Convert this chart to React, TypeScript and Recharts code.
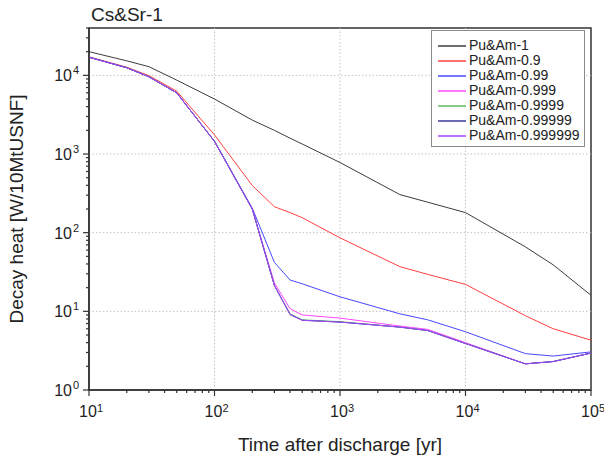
import { Legend, Line, LineChart, ReferenceArea, ReferenceLine, XAxis, YAxis } from "recharts";

const FONT = "'Liberation Sans', Arial, sans-serif";
const INK = "#222";
const AXIS = "#333";
const GRID = "#c4c4c4";

// time after discharge [yr]
const times = [10, 20, 30, 50, 100, 200, 300, 400, 500, 1000, 3000, 5000, 10000, 30000, 50000, 100000];

// decay heat [W/10MtUSNF]
const pu1 = [20000, 15300, 12900, 8700, 5000, 2700, 2000, 1590, 1340, 780, 305, 244, 180, 66, 39, 16];
const pu09 = [17200, 12700, 9900, 6300, 1750, 398, 214, 180, 155, 86, 37, 29.5, 22, 8.8, 6.0, 4.3];
const pu099 = [17000, 12500, 9600, 6000, 1450, 205, 42, 25, 22.4, 15.3, 9.3, 7.8, 5.5, 2.9, 2.7, 3.05];
const pu0999 = [17000, 12500, 9600, 6000, 1450, 200, 23, 10.8, 9.0, 8.2, 6.5, 5.9, 4.0, 2.15, 2.3, 2.95];
const pu09999 = [17000, 12500, 9600, 6000, 1450, 200, 21.5, 9.3, 7.8, 7.4, 6.3, 5.7, 3.9, 2.15, 2.3, 2.95];
const pu099999 = [17000, 12500, 9600, 6000, 1450, 200, 21.3, 9.1, 7.7, 7.3, 6.3, 5.7, 3.9, 2.15, 2.3, 2.95];
const pu0999999 = [17000, 12500, 9600, 6000, 1450, 200, 21.3, 9.1, 7.7, 7.3, 6.3, 5.7, 3.9, 2.15, 2.3, 2.95];

const series = [
  { key: "Pu&Am-1", color: "#3c3c3c", values: pu1 },
  { key: "Pu&Am-0.9", color: "#ff4040", values: pu09 },
  { key: "Pu&Am-0.99", color: "#4848ff", values: pu099 },
  { key: "Pu&Am-0.999", color: "#ff48ff", values: pu0999 },
  { key: "Pu&Am-0.9999", color: "#5cb85c", values: pu09999 },
  { key: "Pu&Am-0.99999", color: "#3a3a9c", values: pu099999 },
  { key: "Pu&Am-0.999999", color: "#a048ff", values: pu0999999 },
];

const xGrid = [100, 1000, 10000];
const yGrid = [10, 100, 1000, 10000];

function logTicks(from: number, to: number) {
  const out: number[] = [];
  for (let d = from; d < to; d *= 10) for (let m = 1; m < 10; m++) out.push(d * m);
  out.push(to);
  return out;
}
const xTicks = logTicks(10, 100000);
const yTicks = [...logTicks(1, 10000), 20000, 30000, 40000];

const rows = times.map((t, i) => {
  const r: Record<string, number> = { t };
  series.forEach((s) => (r[s.key] = s.values[i]));
  return r;
});

function isMajor(v: number) {
  const e = Math.log10(v);
  return Math.abs(e - Math.round(e)) < 1e-6;
}

function XTick({ x, y, payload }: any) {
  const v = payload.value;
  const major = isMajor(v);
  return (
    <g>
      <line x1={x} x2={x} y1={y} y2={y + (major ? 6 : 3)} stroke={AXIS} strokeWidth={1.2} />
      {major && (
        <g fontFamily={FONT} fill={INK}>
          <text x={x - 1} y={y + 27} textAnchor="middle" fontSize={16}>
            10
          </text>
          <text x={x + 8} y={y + 22} fontSize={11}>
            {Math.round(Math.log10(v))}
          </text>
        </g>
      )}
    </g>
  );
}

function YTick({ x, y, payload }: any) {
  const v = payload.value;
  const major = isMajor(v);
  return (
    <g>
      <line x1={x} x2={x - (major ? 6 : 3)} y1={y} y2={y} stroke={AXIS} strokeWidth={1.2} />
      {major && (
        <g fontFamily={FONT} fill={INK}>
          <text x={x - 17} y={y + 6} textAnchor="end" fontSize={16}>
            10
          </text>
          <text x={x - 16} y={y - 1} fontSize={11}>
            {Math.round(Math.log10(v))}
          </text>
        </g>
      )}
    </g>
  );
}

function LegendBox() {
  return (
    <div
      style={{
        border: "1px solid #8a8a8a",
        background: "#fff",
        padding: "7px 0 3px 6px",
        width: 146,
        boxSizing: "content-box",
        fontFamily: FONT,
        fontSize: 14,
        color: INK,
        whiteSpace: "nowrap",
      }}
    >
      {series.map((s) => (
        <div key={s.key} style={{ display: "flex", alignItems: "center", height: 15, lineHeight: "15px" }}>
          <svg width={28} height={4} style={{ flexShrink: 0, marginRight: 3 }}>
            <line x1={0} x2={28} y1={2} y2={2} stroke={s.color} strokeWidth={1.5} />
          </svg>
          <span>{s.key}</span>
        </div>
      ))}
    </div>
  );
}

export default function App() {
  return (
    <div style={{ position: "absolute", left: 0, top: 0, width: 604, height: 457, background: "#fff" }}>
      <div style={{ position: "absolute", left: 91, top: 4, fontFamily: FONT, fontSize: 19, color: INK }}>
        Cs&amp;Sr-1
      </div>
      <LineChart width={604} height={457} data={rows} margin={{ top: 28, right: 13, left: 0, bottom: 0 }}>
        <XAxis
          dataKey="t"
          type="number"
          scale="log"
          domain={[10, 100000]}
          ticks={xTicks}
          interval={0}
          tickSize={0}
          tickMargin={0}
          tickLine={false}
          tick={<XTick />}
          height={67}
          axisLine={{ stroke: AXIS, strokeWidth: 1.5 }}
          allowDataOverflow
          label={{
            value: "Time after discharge [yr]",
            position: "insideBottom",
            offset: 6,
            fontSize: 19,
            fill: INK,
            fontFamily: FONT,
          }}
        />
        <YAxis
          type="number"
          scale="log"
          domain={[1, 40000]}
          ticks={yTicks}
          interval={0}
          tickSize={0}
          tickMargin={0}
          tickLine={false}
          tick={<YTick />}
          width={89}
          axisLine={{ stroke: AXIS, strokeWidth: 1.5 }}
          allowDataOverflow
          label={{
            value: "Decay heat [W/10MtUSNF]",
            angle: -90,
            position: "insideLeft",
            offset: 16,
            fontSize: 19,
            fill: INK,
            fontFamily: FONT,
            style: { textAnchor: "middle" },
          }}
        />
        {xGrid.map((v) => (
          <ReferenceLine key={"gx" + v} x={v} stroke={GRID} strokeDasharray="1.5 2" ifOverflow="visible" />
        ))}
        {yGrid.map((v) => (
          <ReferenceLine key={"gy" + v} y={v} stroke={GRID} strokeDasharray="1.5 2" ifOverflow="visible" />
        ))}
        <ReferenceArea x1={10} x2={100000} y1={1} y2={40000} fill="none" stroke={AXIS} strokeWidth={1.5} />
        {series.map((s) => (
          <Line
            key={s.key}
            dataKey={s.key}
            stroke={s.color}
            strokeWidth={1}
            dot={false}
            isAnimationActive={false}
          />
        ))}
        <Legend
          layout="vertical"
          align="center"
          verticalAlign="middle"
          content={<LegendBox />}
          wrapperStyle={{ position: "absolute", left: 431, top: 30, width: "auto" }}
        />
      </LineChart>
    </div>
  );
}
